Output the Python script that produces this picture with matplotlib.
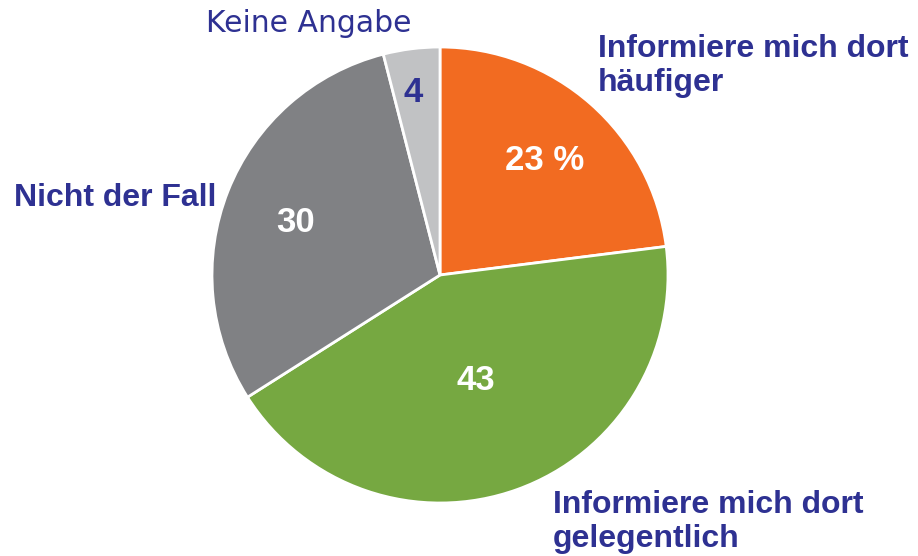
import matplotlib.pyplot as plt

categories = ['Informiere mich dort\nhäufiger', 'Informiere mich dort\ngelegentlich',
              'Nicht der Fall', 'Keine Angabe']
values = [23, 43, 30, 4]
value_labels = ['23 %', '43', '30', '4']
colors = ['#F26B21', '#76A841', '#808184', '#C1C2C4']
text_color = '#2E3192'

W, H = 918, 556
fig = plt.figure(figsize=(W / 100, H / 100), dpi=100)
ax = fig.add_axes([0, 0, 1, 1])

cx, cy, r = 440, H - 275, 228
ax.pie(values, colors=colors, startangle=90, counterclock=False,
       center=(cx, cy), radius=r, frame=True,
       wedgeprops=dict(edgecolor='white', linewidth=2))
ax.set_xlim(0, W)
ax.set_ylim(0, H)
ax.set_aspect('equal')
ax.axis('off')

# value labels inside slices
val_pos = [(545, 160), (476, 380), (296, 222), (413, 92)]
val_cols = ['white', 'white', 'white', text_color]
for lab, (x, y), c in zip(value_labels, val_pos, val_cols):
    ax.text(x, H - y, lab, ha='center', va='center', fontsize=25,
            fontweight='bold', color=c, family='Liberation Sans')

# category labels
ax.text(598, H - 66, categories[0], ha='left', va='center', fontsize=23,
        fontweight='bold', color=text_color, family='Liberation Sans', linespacing=1.15)
ax.text(553, H - 522, categories[1], ha='left', va='center', fontsize=23,
        fontweight='bold', color=text_color, family='Liberation Sans', linespacing=1.15)
ax.text(216, H - 198, categories[2], ha='right', va='center', fontsize=23,
        fontweight='bold', color=text_color, family='Liberation Sans')
ax.text(309, H - 23, categories[3], ha='center', va='center', fontsize=21.5,
        fontweight='normal', color=text_color, family='DejaVu Sans')

fig.savefig('out.png', dpi=100)
